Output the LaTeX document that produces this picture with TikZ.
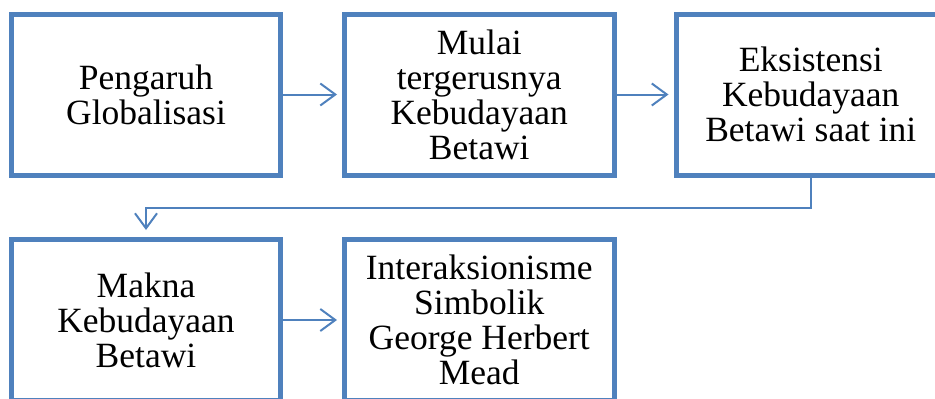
\documentclass[tikz,border=0pt]{standalone}
\usepackage{fontspec}
\setmainfont{Liberation Serif}
\usetikzlibrary{arrows.meta,calc}
\definecolor{boxblue}{RGB}{79,129,189}
\tikzset{
  flowbox/.style={draw=boxblue, line width=5pt, rectangle, align=center,
    inner sep=0pt, font=\fontsize{35.5}{35}\selectfont, text=black},
  conn/.style={draw=boxblue, line width=2pt,
    -{Straight Barb[length=15pt, width=22pt, line width=2pt]}}
}
\begin{document}
\begin{tikzpicture}[x=1pt,y=-1pt]
\useasboundingbox (0,0) rectangle (935,399);
\node[flowbox, minimum width=269pt, minimum height=161pt] (b1) at (146,94.5) {Pengaruh\\Globalisasi};
\node[flowbox, minimum width=269.5pt, minimum height=161pt] (b2) at (479.25,94.5) {Mulai\\tergerusnya\\Kebudayaan\\Betawi};
\node[flowbox, minimum width=269.5pt, minimum height=161pt] (b3) at (810.75,94.5) {Eksistensi\\Kebudayaan\\Betawi saat ini};
\node[flowbox, minimum width=269pt, minimum height=161pt] (b4) at (146,320) {Makna\\Kebudayaan\\Betawi};
\node[flowbox, minimum width=269.5pt, minimum height=161pt] (b5) at (479.25,320) {Interaksionisme\\Simbolik\\George Herbert\\Mead};
\coordinate (turn) at (146,208);
\draw[conn, shorten >=5pt] (b1.east) -- (b2.west);
\draw[conn, shorten >=5pt] (b2.east) -- (b3.west);
\draw[conn, shorten >=5pt] (b4.east) -- (b5.west);
\draw[conn, shorten >=7pt] (b3.south) -- (b3.south |- turn) -- (turn) -- (b4.north);
\end{tikzpicture}
\end{document}
